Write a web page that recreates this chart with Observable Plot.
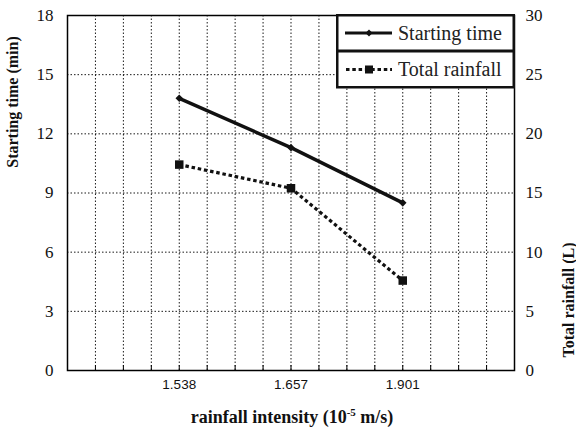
<!DOCTYPE html>
<html><head><meta charset="utf-8">
<script src="https://cdn.jsdelivr.net/npm/d3@7"></script>
<script src="https://cdn.jsdelivr.net/npm/@observablehq/plot@0.6"></script>
<style>
body{margin:0;background:#fff}
#c{position:relative;width:576px;height:428px;overflow:hidden}
.lab{position:absolute;font-family:"Liberation Serif","Times New Roman",serif;font-weight:bold;font-size:16px;color:#111;white-space:nowrap;line-height:1}
#c svg .serifax text, #c svg text.serif{font-family:"Liberation Serif","Times New Roman",serif !important;}
#c svg .sansax text{font-family:"Liberation Sans",Arial,sans-serif !important;}
</style>
</head><body><div id="c"></div>
<script>
const intensity = ["1.538", "1.657", "1.901"];
const startingTime = [13.8, 11.3, 8.5];
const totalRainfall = [17.4, 15.4, 7.6];
const leftTicks = [0, 3, 6, 9, 12, 15, 18];
const rightTicks = [0, 5, 10, 15, 20, 25, 30];
const xGridSteps = 16;

const scaleR = 18 / 30;
const xPos = intensity.map((d, i) => (i + 1) * 4);
const rows = intensity.map((d, i) => ({x: xPos[i], t: startingTime[i], r: totalRainfall[i] * scaleR}));
const grid = d3.range(1, xGridSteps);

const chart = Plot.plot({
  width: 576, height: 428,
  marginLeft: 67, marginRight: 62, marginTop: 15, marginBottom: 58,
  x: {type: "linear", domain: [0, xGridSteps]},
  y: {domain: [0, 18]},
  style: {background: "white"},
  marks: [
    Plot.gridY([3, 6, 9, 12, 15], {stroke: "#000", strokeOpacity: 0.9, strokeDasharray: "1.5,2"}),
    Plot.gridX(grid, {stroke: "#000", strokeOpacity: 0.9, strokeDasharray: "1.5,2"}),
    Plot.ruleX(grid, {y1: 0, y2: 0.25, stroke: "#000", strokeWidth: 1}),
    Plot.frame({stroke: "#000", strokeWidth: 1.5}),
    Plot.line(rows, {x: "x", y: "r", stroke: "#111", strokeWidth: 3.2, strokeDasharray: "3.5,2.8", strokeLinecap: "butt", strokeLinejoin: "miter"}),
    Plot.dot(rows, {x: "x", y: "r", symbol: "square", r: 4.8, fill: "#111", stroke: "none"}),
    Plot.line(rows, {x: "x", y: "t", stroke: "#111", strokeWidth: 3.4}),
    Plot.dot(rows, {x: "x", y: "t", symbol: "diamond2", r: 3.4, fill: "#111", stroke: "none"}),
    Plot.axisY(leftTicks, {anchor: "left", tickSize: 0, tickPadding: 14, label: null, className: "serifax",
      fontSize: 17, fontFamily: "Liberation Serif", fill: "#111"}),
    Plot.axisY(rightTicks.map(v => v * scaleR), {anchor: "right", tickSize: 0, tickPadding: 11, label: null, className: "serifax",
      tickFormat: v => String(Math.round(v / scaleR)),
      fontSize: 17, fontFamily: "Liberation Serif", fill: "#111"}),
    Plot.axisX(xPos, {anchor: "bottom", tickSize: 0, tickPadding: 9, label: null, className: "sansax",
      tickFormat: (d, i) => intensity[i],
      fontSize: 13.5, fontFamily: "Liberation Sans", fill: "#111"})
  ]
});
const c = document.getElementById("c");
chart.style.position = "absolute"; chart.style.left = "0"; chart.style.top = "0";
c.appendChild(chart);

function add(html, style) {
  const d = document.createElement("div");
  d.className = "lab"; d.innerHTML = html;
  Object.assign(d.style, style);
  c.appendChild(d);
  return d;
}
add("Starting time (min)", {left: "13px", top: "102px", transform: "translate(-50%,-50%) rotate(-90deg)"});
add("Total rainfall (L)", {left: "569px", top: "300px", transform: "translate(-50%,-50%) rotate(-90deg)"});
add("rainfall intensity (10<sup style='font-size:11px;vertical-align:7px'>-5</sup> m/s)", {left: "292px", top: "416px", fontSize: "18px", transform: "translate(-50%,-50%)"});

// legend
const leg = document.createElementNS("http://www.w3.org/2000/svg", "svg");
leg.setAttribute("width", 180); leg.setAttribute("height", 76);
leg.style.position = "absolute"; leg.style.left = "336px"; leg.style.top = "14px";
leg.innerHTML = `
<rect x="1.25" y="1.25" width="176.5" height="72" fill="white" stroke="#111" stroke-width="2.5"/>
<line x1="1" y1="37" x2="179" y2="37" stroke="#111" stroke-width="3"/>
<line x1="9" y1="19" x2="56" y2="19" stroke="#111" stroke-width="3"/>
<path d="M33,15.5 L36.5,19 L33,22.5 L29.5,19 Z" fill="#111"/>
<text class="serif" x="62" y="26" font-size="20" fill="#222">Starting time</text>
<line x1="10" y1="55.5" x2="56" y2="55.5" stroke="#111" stroke-width="3" stroke-dasharray="3.5,2.8"/>
<rect x="29" y="51.5" width="8" height="8" fill="#111"/>
<text class="serif" x="62" y="62" font-size="20" fill="#222">Total rainfall</text>`;
c.appendChild(leg);
</script>
</body></html>
